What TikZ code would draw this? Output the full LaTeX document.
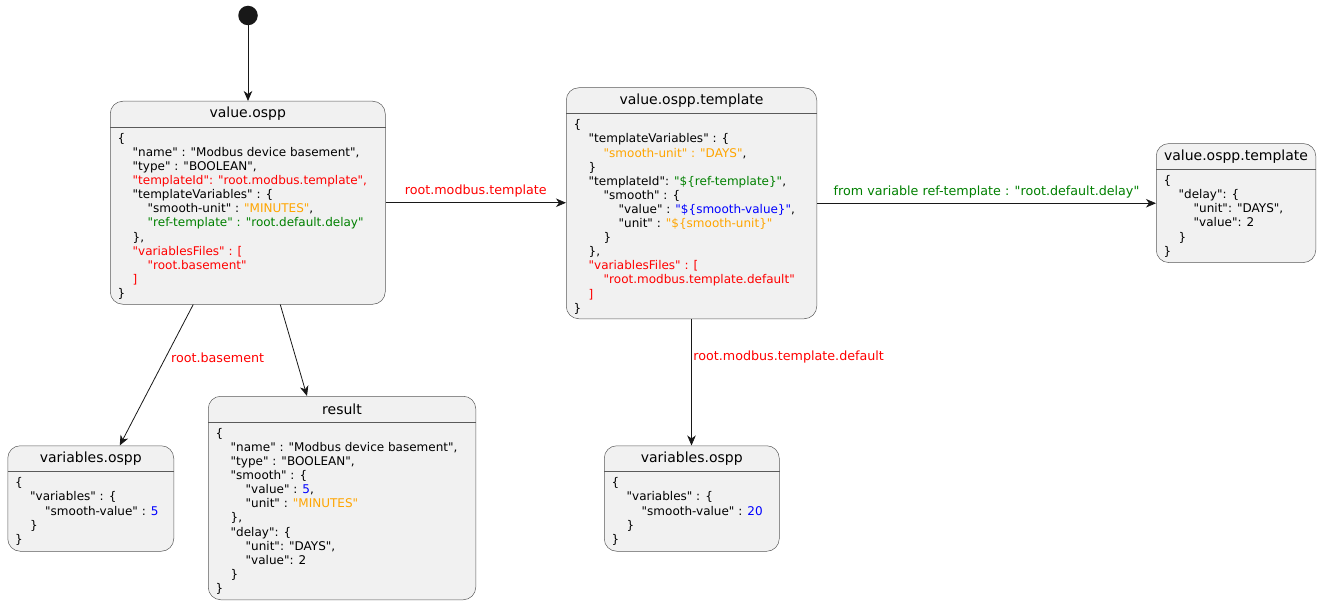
\documentclass[tikz,border=0pt]{standalone}
\usepackage{fontspec}
\setmainfont{DejaVu Sans}[Ligatures=TeXOff]
\usepackage{xcolor}
\usepackage{tikz}
\usetikzlibrary{arrows.meta,positioning}
\definecolor{statefill}{HTML}{F1F1F1}
\definecolor{stateline}{HTML}{181818}
\definecolor{stateborder}{HTML}{5A5A5A}
\definecolor{jsonred}{HTML}{FF0000}
\definecolor{jsonorange}{HTML}{FFA500}
\definecolor{jsongreen}{HTML}{008000}
\definecolor{jsonblue}{HTML}{0000FF}
\newcommand{\jsontab}{\hspace*{15pt}}

\tikzset{
    state/.style={draw=stateborder, fill=statefill, line width=0.5pt, rounded corners=12.5pt, anchor=north west, inner sep=0pt},
    statename/.style={font=\fontsize{14}{16}\selectfont, inner sep=0pt},
    statebody/.style={anchor=north west, align=left, inner sep=0pt, font=\fontsize{12}{14.1}\selectfont},
    divider/.style={draw=stateborder, line width=0.5pt},
    flow/.style={draw=stateline, line width=0.8pt, -{Stealth[length=10pt, width=8.5pt, inset=3pt]}},
    flowlabel/.style={font=\fontsize{12.7}{15}\selectfont, inner sep=0pt}
}

\begin{document}
\begin{tikzpicture}[x=1pt, y=-1pt]
    \useasboundingbox (0,0) rectangle (1321,604);

    \node[circle, fill=stateline, minimum size=19.5pt, inner sep=0pt] (start) at (248,15.5) {};

    \node[state, minimum width=275pt, minimum height=203pt] (value) at (110,101) {};
    \node[state, minimum width=250.5pt, minimum height=231pt] (tmpl) at (566,87.5) {};
    \node[state, minimum width=159.5pt, minimum height=119pt] (delay) at (1156,143.3) {};
    \node[state, minimum width=166pt, minimum height=105.5pt] (varsleft) at (7.5,445.5) {};
    \node[state, minimum width=267.5pt, minimum height=203.5pt] (result) at (208,396) {};
    \node[state, minimum width=175pt, minimum height=105.5pt] (varsmid) at (604,445.5) {};

    \foreach \s/\t in {value/value.ospp, tmpl/value.ospp.template, delay/value.ospp.template,
                       varsleft/variables.ospp, result/result, varsmid/variables.ospp} {
        \draw[divider] ([yshift=-26pt]\s.north west) -- ([yshift=-26pt]\s.north east);
        \node[statename] (\s-name) at ([yshift=-13pt]\s.north) {\t};
    }

    \node[statebody] (value-body) at ([xshift=7.5pt, yshift=-32pt]value.north west) {
        \{\\
        \jsontab"name" : "Modbus device basement",\\
        \jsontab"type" : "BOOLEAN",\\
        \jsontab\textcolor{jsonred}{"templateId": "root.modbus.template",}\\
        \jsontab"templateVariables" : \{\\
        \jsontab\jsontab"smooth-unit" : \textcolor{jsonorange}{"MINUTES"},\\
        \jsontab\jsontab\textcolor{jsongreen}{"ref-template" : "root.default.delay"}\\
        \jsontab\},\\
        \jsontab\textcolor{jsonred}{"variablesFiles" : [}\\
        \jsontab\jsontab\textcolor{jsonred}{"root.basement"}\\
        \jsontab\textcolor{jsonred}{]}\\
        \}
    };

    \node[statebody] (tmpl-body) at ([xshift=7.5pt, yshift=-32pt]tmpl.north west) {
        \{\\
        \jsontab"templateVariables" : \{\\
        \jsontab\jsontab\textcolor{jsonorange}{"smooth-unit" : "DAYS"},\\
        \jsontab\}\\
        \jsontab"templateId": \textcolor{jsongreen}{"\$\{ref-template\}"},\\
        \jsontab\jsontab"smooth" : \{\\
        \jsontab\jsontab\jsontab"value" : \textcolor{jsonblue}{"\$\{smooth-value\}"},\\
        \jsontab\jsontab\jsontab"unit" : \textcolor{jsonorange}{"\$\{smooth-unit\}"}\\
        \jsontab\jsontab\}\\
        \jsontab\},\\
        \jsontab\textcolor{jsonred}{"variablesFiles" : [}\\
        \jsontab\jsontab\textcolor{jsonred}{"root.modbus.template.default"}\\
        \jsontab\textcolor{jsonred}{]}\\
        \}
    };

    \node[statebody] (delay-body) at ([xshift=7.5pt, yshift=-32pt]delay.north west) {
        \{\\
        \jsontab"delay": \{\\
        \jsontab\jsontab"unit": "DAYS",\\
        \jsontab\jsontab"value": 2\\
        \jsontab\}\\
        \}
    };

    \node[statebody] (varsleft-body) at ([xshift=7.5pt, yshift=-32pt]varsleft.north west) {
        \{\\
        \jsontab"variables" : \{\\
        \jsontab\jsontab"smooth-value" : \textcolor{jsonblue}{5}\\
        \jsontab\}\\
        \}
    };

    \node[statebody] (result-body) at ([xshift=7.5pt, yshift=-32pt]result.north west) {
        \{\\
        \jsontab"name" : "Modbus device basement",\\
        \jsontab"type" : "BOOLEAN",\\
        \jsontab"smooth" : \{\\
        \jsontab\jsontab"value" : \textcolor{jsonblue}{5},\\
        \jsontab\jsontab"unit" : \textcolor{jsonorange}{"MINUTES"}\\
        \jsontab\},\\
        \jsontab"delay": \{\\
        \jsontab\jsontab"unit": "DAYS",\\
        \jsontab\jsontab"value": 2\\
        \jsontab\}\\
        \}
    };

    \node[statebody] (varsmid-body) at ([xshift=7.5pt, yshift=-32pt]varsmid.north west) {
        \{\\
        \jsontab"variables" : \{\\
        \jsontab\jsontab"smooth-value" : \textcolor{jsonblue}{20}\\
        \jsontab\}\\
        \}
    };

    \draw[flow] (start.south) -- (start.south |- value.north);
    \draw[flow] (value.east) -- (value.east -| tmpl.west)
        node[flowlabel, midway, above=5pt, text=jsonred] {root.modbus.template};
    \draw[flow] (tmpl.east) -- (tmpl.east -| delay.west)
        node[flowlabel, midway, above=5pt, text=jsongreen] {from variable ref-template : "root.default.delay"};
    \draw[flow] ([xshift=-54.5pt]value.south) -- ([xshift=29pt]varsleft.north)
        node[flowlabel, pos=0.375, anchor=west, xshift=5pt, text=jsonred] {root.basement};
    \draw[flow] ([xshift=32.5pt]value.south) -- ([xshift=-35pt]result.north);
    \draw[flow] (tmpl.south) -- (tmpl.south |- varsmid.north)
        node[flowlabel, pos=0.3, anchor=west, xshift=1.5pt, text=jsonred] {root.modbus.template.default};
\end{tikzpicture}
\end{document}
